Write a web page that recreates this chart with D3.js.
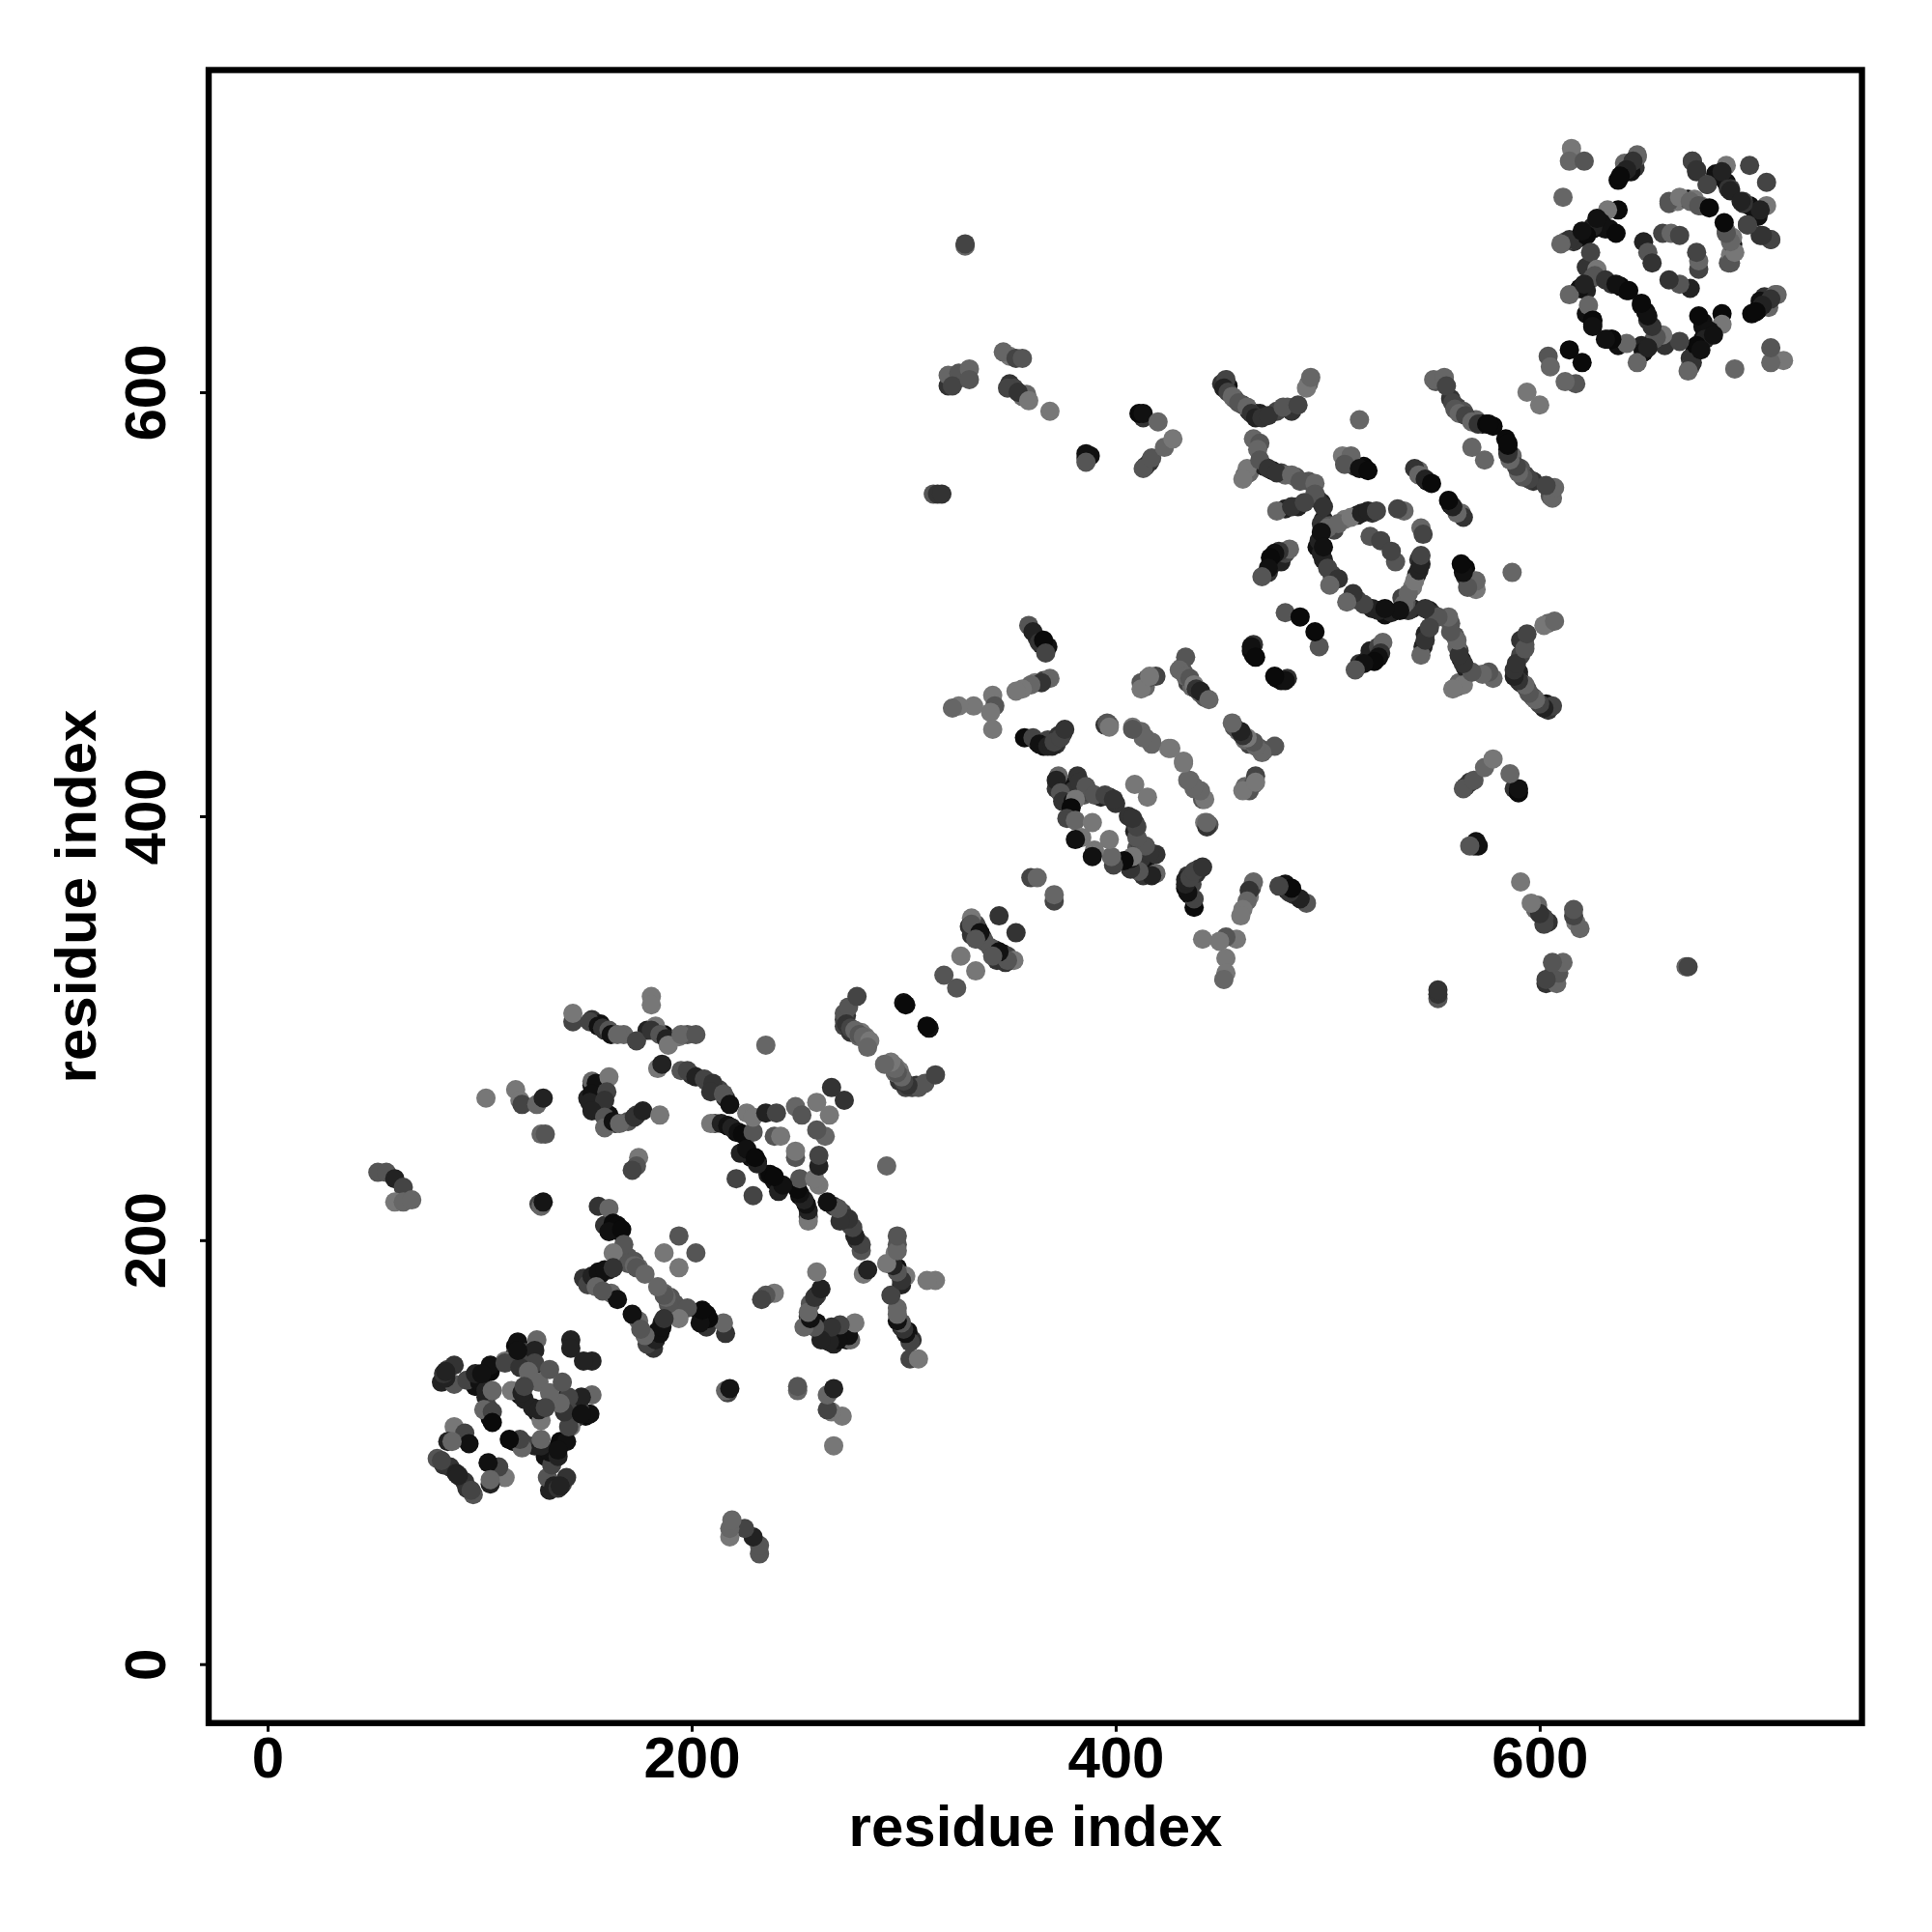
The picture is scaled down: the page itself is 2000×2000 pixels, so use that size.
<!DOCTYPE html>
<html><head><meta charset="utf-8">
<script src="https://cdn.jsdelivr.net/npm/d3@7/dist/d3.min.js"></script>
<style>html,body{margin:0;padding:0;background:#fff}svg{display:block}text{font-family:"Liberation Sans",Arial,sans-serif;font-weight:bold;fill:#000}</style>
</head><body><div id="chart"></div>
<script>
// contact rows: [residue i, residue j, grey level]; the map is symmetric
const xyTicks = [0,200,400,600];
const axisTitle = "residue index";
const farLeft = [[52,232,0x55],[56,232,0x55],[60,229,0x22],[64,225,0x44],[60,218,0x77],[64,218,0x66],[68,219,0x66],
[103,267,0x77],[117,271,0x77],[119,266,0x77],[120,264,0x44],[127,264,0x66],[130,267,0x22],[129,250,0x66],[131,250,0x55],[128,217,0x44],[129,216,0x66],[130,218,0x15]];
const bandA = [[153,275,0x66],[155,274,0x11],[161,277,0x77],[153,269,0x11],[160,270,0x44],[152,265,0x22],[159,266,0x33],[153,261,0x22],[159,258,0x55],[159,253,0x66],[163,256,0x11],[166,255,0x66],[173,258,0x33],[177,261,0x22],[185,259,0x77],[175,239,0x77],[174,235,0x55],[172,233,0x44],
[144,303,0x44],[144,307,0x77],[152,303,0x44],[156,301,0x11],[158,300,0x33],[161,299,0x55],[162,297,0x11],[165,297,0x66],[174,294,0x44],[181,315,0x77],[181,311,0x77],[183,301,0x77],[181,299,0x33],[185,297,0x55],[188,295,0x22],[189,292,0x77],[195,297,0x66],[202,297,0x55],[235,292,0x66],[184,281,0x77],[186,283,0x22]];
const strip2 = [[195,280,0x55],[198,280,0x44],[202,277,0x22],[206,276,0x44],[210,274,0x33],[209,270,0x33],[215,269,0x55],[218,264,0x11],[209,255,0x77],[214,255,0x22],[217,254,0x11],[219,253,0x22],[222,251,0x11],[224,250,0x0a],[229,251,0x55],[223,241,0x22],[226,243,0x11],[230,239,0x0a],[221,229,0x44],
[226,260,0x77],[229,258,0x77],[235,260,0x22],[240,260,0x44],[249,263,0x66],[252,259,0x55],[259,265,0x77],[266,272,0x33],[239,249,0x55],[242,249,0x77]];
const strip3 = [[272,304,0x44],[272,307,0x55],[274,310,0x55],[273,302,0x33],[278,315,0x44],[275,300,0x44],[277,299,0x66],[279,297,0x55],[281,296,0x66],[284,294,0x77],[283,291,0x66],[301,311,0x0a],[319,325,0x55]];
const stripE = [[156,216,0x33],[161,215,0x66],[163,208,0x0a],[165,207,0x0a],[161,204,0x11],[167,205,0x0a],[168,198,0x55],[163,194,0x77],[170,189,0x55],[173,188,0x66],[174,187,0x55],[178,184,0x66],[187,194,0x77],[194,202,0x55],
[151,179,0x44],[153,183,0x22],[156,185,0x11],[159,186,0x11],[163,187,0x33],[155,178,0x66],[162,175,0x66],[165,172,0x11],[158,176,0x55]];
const block1 = [[88,141,0x33],[84,135,0x22],[83,137,0x33],[84,138,0x22],[94,134,0x44],[100,133,0x11],[105,141,0x11],[103,129,0x22],[106,129,0x66],[102,120,0x66],[106,119,0x44],[106,114,0x0a],[98,137,0x22],[101,137,0x11],[112,142,0x44],[115,129,0x77],[118,152,0x11],[127,153,0x66],[121,147,0x44],[126,148,0x22],[126,142,0x44],[119,140,0x33],[123,138,0x66],[128,133,0x66],[120,128,0x22],[121,131,0x44],[133,139,0x55],[143,153,0x22],[143,149,0x22],[118,148,0x11],
[88,112,0x77],[93,109,0x44],[95,104,0x11],[85,105,0x22],[87,105,0x66],[80,97,0x55],[83,94,0x33],[86,93,0x33],[89,90,0x22],[82,96,0x44]];
const midA = [[327,334,0x77],[332,352,0x77],[331,348,0x33],[332,349,0x55],[336,345,0x11],[334,342,0x55],[345,353,0x33],[360,371,0x44],[363,371,0x66],
[373,419,0x66],[372,417,0x22],[374,411,0x55],[375,407,0x33],[380,407,0x11],[382,419,0x33],[383,416,0x33],[386,414,0x55],[390,410,0x55],[395,410,0x44],[399,408,0x33],[381,408,0x77],[379,404,0x0a],[377,399,0x44],[381,398,0x66],[389,397,0x77],[384,390,0x77],[381,389,0x11],[409,415,0x77]];
const midB = [[357,437,0x0a],[361,437,0x44],[364,434,0x11],[368,433,0x22],[370,433,0x22],[371,435,0x44],[374,437,0x44],[376,441,0x33],[359,490,0x55],[361,487,0x22],[364,482,0x33],[366,483,0x0a],[367,477,0x44],
[369,465,0x66],[365,463,0x33],[360,462,0x66],[356,460,0x77],[353,459,0x77],[342,457,0x77],[343,452,0x55],[341,449,0x77],[342,441,0x77],[333,452,0x77],[326,452,0x77],[323,451,0x66],
[395,443,0x33],[397,443,0x66],[408,442,0x77],[412,440,0x66],[414,437,0x66],[417,434,0x66],[425,432,0x77],[432,426,0x77],[435,417,0x66],[437,413,0x66],[441,408,0x55],[444,396,0x55],[442,397,0x77]];
const midC = [[412,463,0x55],[412,460,0x77],[419,466,0x44],[416,466,0x77],[433,475,0x55],[430,469,0x66],[433,466,0x66],[435,465,0x55],[437,462,0x77],[438,460,0x33],[440,459,0x22],[444,455,0x66],[480,496,0x55],[487,494,0x0a],[464,480,0x11],[466,475,0x0a]];
const xShape = [[452,606,0x44],[451,602,0x22],[453,600,0x44],[455,598,0x66],[458,595,0x55],[462,593,0x66],[464,590,0x33],[466,588,0x22],[469,588,0x33],[472,589,0x33],[479,593,0x55],[486,594,0x44],[490,602,0x77],[492,607,0x66],[468,576,0x55],[467,573,0x66],[462,564,0x77],[460,559,0x77],[468,568,0x55],
[472,564,0x33],[476,562,0x33],[483,561,0x66],[487,558,0x55],[494,557,0x66],[494,552,0x55],[498,546,0x33],[476,544,0x66],[483,546,0x33],[489,548,0x44],[500,536,0x66],[505,538,0x66],[511,541,0x77],[516,543,0x22],[519,544,0x22],[523,544,0x44],
[496,530,0x22],[497,534,0x11],[497,524,0x22],[498,527,0x11],[500,517,0x44],[505,512,0x33],[501,509,0x66],[482,526,0x66],[477,525,0x33],[475,524,0x11],[473,522,0x0a],[472,517,0x11],[469,513,0x55],[520,532,0x55],[525,530,0x44],
[541,564,0x33],[543,561,0x66],[546,559,0x22],[549,557,0x0a],[536,544,0x66],[533,545,0x44],[507,570,0x77],[511,570,0x66],[508,566,0x55],[515,564,0x11],[519,563,0x0a],[515,587,0x66]];
const topStrip = [[550,606,0x66],[555,607,0x66],[556,603,0x44],[559,595,0x44],[560,592,0x55],[562,590,0x66],[565,589,0x44],[568,586,0x66],[571,585,0x33],[575,585,0x0a],[576,585,0x0a],[568,574,0x66],[594,600,0x77],[604,617,0x55],[605,612,0x66],[614,620,0x0a]];
const block2 = [[615,715,0x77],[614,709,0x66],[621,709,0x55],[611,692,0x66],[646,711,0x66],[644,709,0x33],[641,705,0x22],[638,702,0x0a],[672,709,0x44],[674,705,0x33],[688,707,0x77],[684,702,0x11],[686,704,0x22],[679,698,0x44],[689,696,0x33],[699,707,0x44],[690,695,0x22],[661,690,0x55],[666,692,0x77],[671,690,0x66],[675,688,0x55],[680,687,0x0a],
[637,686,0x0a],[632,686,0x77],[636,675,0x0a],[629,680,0x11],[625,678,0x22],[622,674,0x0a],[614,672,0x33],[610,670,0x66],[620,676,0x11],[627,682,0x11],[624,666,0x44],[627,658,0x77],[626,655,0x55],[631,653,0x33],[636,651,0x11],[642,648,0x0a],[619,649,0x11],[614,646,0x66],[621,651,0x22],[623,641,0x66],[625,634,0x0a],[625,631,0x11],[649,671,0x22],[651,666,0x55],[653,661,0x33],[658,675,0x44],[662,675,0x66],[666,674,0x44]];
const farTop = [[329,669,0x66],[329,670,0x44],[321,608,0x66],[326,609,0x55],[323,603,0x44],[331,611,0x66],[331,606,0x55],[347,619,0x66],[353,616,0x44],[356,616,0x55],[349,602,0x44],[354,600,0x33],[359,596,0x77],[369,591,0x77],[386,571,0x11],[386,567,0x55],[413,590,0x11],[420,586,0x66],[413,564,0x55],[417,569,0x55],[423,574,0x66],[427,578,0x77],[314,552,0x55],[316,552,0x33],[318,552,0x33]];
// rows hidden lower in the overplotted stacks
const underBlock2 = [[633,677,0x11],[631,677,0x11],[629,678,0x11],[625,677,0x11],[622,675,0x22],[619,673,0x11],[616,671,0x33],[612,671,0x66],[622,659,0x33],[625,654,0x55],[634,651,0x33],[638,650,0x0a],[641,648,0x11],[619,649,0x0a],[622,648,0x22],[622,637,0x11],[625,634,0x0a],[625,632,0x22],
[661,689,0x55],[665,690,0x77],[670,691,0x11],[673,691,0x77],[676,688,0x77],[683,703,0x11],[688,699,0x11],[690,696,0x44],[679,698,0x55],[672,709,0x55],[674,704,0x33],[646,712,0x66],[640,708,0x66],[645,706,0x33],[643,704,0x11],[639,703,0x11],[637,700,0x0a]];
const underLower = [[101,136,0x11],[105,138,0x0a],[98,131,0x11],[103,126,0x22],[119,127,0x11],[121,125,0x22],[117,150,0x0a],[116,145,0x33],[112,143,0x77],[125,140,0x22],[105,116,0x0a],[104,121,0x44],[84,138,0x11],[82,133,0x22],[88,132,0x55],[85,139,0x44],
[166,204,0x0a],[162,206,0x0a],[159,207,0x33],[170,192,0x55],[173,190,0x55],[175,187,0x66],[157,184,0x11],[161,186,0x22],[149,182,0x33],[153,180,0x22],
[153,273,0x11],[155,271,0x11],[151,267,0x22],[153,263,0x11],[156,261,0x33],[161,259,0x11],[164,255,0x33],[170,256,0x55],[174,259,0x44],[153,304,0x33],[157,302,0x11],[159,299,0x33],[168,297,0x66],[179,299,0x22],[187,297,0x11],[194,296,0x77],[198,297,0x55],
[200,278,0x33],[207,275,0x55],[213,271,0x44],[216,267,0x33],[211,255,0x44],[217,254,0x11],[221,251,0x0a],[225,242,0x33],[228,239,0x11],[231,237,0x0a],[236,231,0x22],
[273,306,0x33],[272,301,0x44],[275,298,0x33],[280,298,0x77],[282,296,0x77],[279,296,0x66],[300,312,0x11]];
const underMid = [[374,414,0x44],[372,413,0x33],[376,410,0x22],[378,414,0x11],[380,412,0x33],[378,407,0x66],[385,410,0x55],[388,411,0x44],[393,409,0x22],[397,409,0x33],[400,406,0x33],
[363,435,0x11],[366,433,0x0a],[368,436,0x44],[373,438,0x33],[372,434,0x33],[375,439,0x33],[363,484,0x33],[365,481,0x0a],[368,480,0x11],[366,464,0x44],[362,463,0x77],
[333,346,0x33],[335,347,0x22],[337,343,0x33],[334,349,0x44],[332,344,0x33],[338,341,0x55],
[434,463,0x44],[436,461,0x66],[440,458,0x66],[442,456,0x55],[431,470,0x77],[432,468,0x55],[414,461,0x66],[415,465,0x55],[464,478,0x11],[465,481,0x33],[465,476,0x0a],
[386,569,0x33],[388,570,0x11],[413,588,0x33],[411,590,0x0a],[414,565,0x33],[416,567,0x33],[322,606,0x66],[325,606,0x55],[321,603,0x33],[329,607,0x66],[350,604,0x33],[352,602,0x44],[356,598,0x66],[358,599,0x66],[350,617,0x77]];
const underUpper = [[450,604,0x33],[453,603,0x11],[456,597,0x44],[460,594,0x44],[463,591,0x22],[466,590,0x11],[468,590,0x22],[476,591,0x44],[481,593,0x55],[483,591,0x33],[491,604,0x66],[465,578,0x66],[461,561,0x66],[463,562,0x66],[470,565,0x22],[474,563,0x11],[478,562,0x44],[480,561,0x66],[485,560,0x55],[491,558,0x55],[497,548,0x22],[495,550,0x33],[480,545,0x22],[486,546,0x22],[498,540,0x22],[497,538,0x33],[501,537,0x55],[503,535,0x44],[508,540,0x77],[514,542,0x22],[521,543,0x33],[495,527,0x11],[498,521,0x22],[502,514,0x44],[474,519,0x0a],[476,522,0x11],[478,520,0x22],[472,515,0x33],[480,524,0x44],
[543,563,0x66],[547,558,0x0a],[513,565,0x33],[517,565,0x0a],[510,567,0x55],[551,605,0x55],[558,597,0x33],[561,593,0x44],[564,591,0x55],[570,587,0x66],[573,585,0x11],[578,584,0x0a]];

const hidden = [underBlock2,underLower,underMid,underUpper].flat();
const contacts = [farLeft,bandA,strip2,strip3,stripE,block1,midA,midB,midC,xShape,topStrip,block2,farTop].flat();
const swap = rows => rows.map(([a,b,g])=>[b,a,g]);
const rows = hidden.concat(swap(hidden),contacts,swap(contacts));

const x = d3.scaleLinear().domain([-27.8,752]).range([216,1927.5]);
const y = d3.scaleLinear().domain([-27.8,752]).range([1783.7,72.5]);
const svg = d3.select("#chart").append("svg").attr("width",2000).attr("height",2000);
svg.append("rect").attr("width",2000).attr("height",2000).attr("fill","#fff");

svg.append("g").selectAll("circle").data(rows).join("circle")
 .attr("cx",d=>x(d[0])).attr("cy",d=>y(d[1])).attr("r",10)
 .attr("fill",d=>d3.rgb(d[2],d[2],d[2]).formatHex());

svg.append("rect").attr("x",x.range()[0]).attr("y",y.range()[1])
 .attr("width",x.range()[1]-x.range()[0]).attr("height",y.range()[0]-y.range()[1])
 .attr("fill","none").attr("stroke","#000").attr("stroke-width",6.4);

const ax = svg.append("g").attr("transform",`translate(0,${y.range()[0]})`)
 .call(d3.axisBottom(x).tickValues(xyTicks).tickSize(9).tickSizeOuter(0).tickPadding(0));
ax.select(".domain").remove();
ax.selectAll("line").attr("stroke","#000").attr("stroke-width",3);
ax.selectAll("text").attr("font-size",60).attr("dy",0).attr("y",56).attr("text-anchor","middle");

const ay = svg.append("g").attr("transform",`translate(${x.range()[0]},0)`)
 .call(d3.axisLeft(y).tickValues(xyTicks).tickSize(9).tickSizeOuter(0).tickPadding(0));
ay.select(".domain").remove();
ay.selectAll("line").attr("stroke","#000").attr("stroke-width",3);
ay.selectAll("text").attr("font-size",60).attr("dy",0).attr("x",0).attr("y",0)
 .attr("text-anchor","middle").attr("transform","translate(-45,0) rotate(-90)");

svg.append("text").attr("x",1072).attr("y",1911).attr("text-anchor","middle").attr("font-size",60).text(axisTitle);
svg.append("text").attr("transform","translate(99,928) rotate(-90)").attr("text-anchor","middle").attr("font-size",60).text(axisTitle);
</script></body></html>
